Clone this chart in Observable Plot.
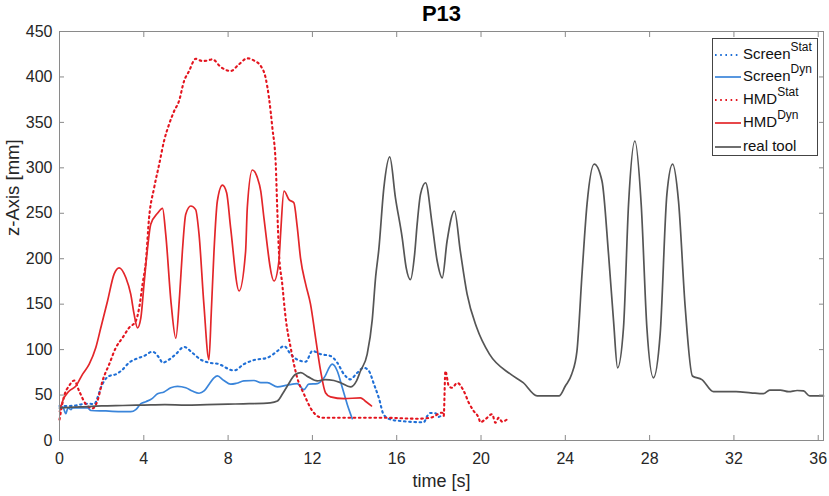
<!DOCTYPE html>
<html><head><meta charset="utf-8">
<script src="https://cdn.jsdelivr.net/npm/d3@7"></script>
<script src="https://cdn.jsdelivr.net/npm/@observablehq/plot@0.6"></script>
<style>
body{margin:0;background:#fff;font-family:"Liberation Sans",Arial,sans-serif;}
#wrap{position:relative;width:829px;height:496px;}
#legend{position:absolute;left:712px;top:38px;width:106px;height:118px;border:1px solid #444;background:#fff;box-sizing:border-box;}
.row{position:absolute;left:0;height:22px;width:104px;font-size:15px;color:#111;}
.row svg{position:absolute;left:2px;top:10px;}
.row span{position:absolute;left:30px;top:2px;white-space:nowrap;line-height:18px;}
.row sup{font-size:12px;position:relative;top:-2px;vertical-align:super;line-height:0;}
</style></head><body><div id="wrap"></div>
<script>
const title = "P13";
const xLabel = "time [s]";
const yLabel = "z-Axis [mm]";
const xTicks = [0,4,8,12,16,20,24,28,32,36];
const yTicks = [0,50,100,150,200,250,300,350,400,450];

const screenStat = [[0,38],[0.46,38],[0.78,38.5],[1.09,40],[1.41,40.5],[1.65,40],[1.8,47],[1.96,58],[2.12,65.5],[2.36,71],[2.67,72.8],[2.99,78],[3.3,85.6],[3.7,90.4],[4.01,93],[4.41,97.7],[4.73,91],[4.89,85.6],[5.2,89],[5.52,95],[5.91,103],[6.3,96.6],[6.7,89],[7.1,85.6],[7.49,84.5],[8.28,77],[8.75,84],[9.23,88.5],[9.86,91],[10.34,98.5],[10.65,104],[10.97,95],[11.28,89],[11.68,86.7],[12.0,98.5],[12.39,95],[12.86,93],[13.18,85.6],[13.5,72.8],[13.8,67.3],[14.13,74.6],[14.44,80],[14.68,76.5],[14.92,62],[15.15,47],[15.39,28],[15.79,22.6],[16.18,21.5],[17.28,20],[17.45,27],[17.6,30.3],[17.84,30],[18.0,26],[18.16,29]];

const screenDyn = [[0,35.4],[0.15,37],[0.3,29.5],[0.4,36],[0.54,34],[0.62,36],[0.78,36],[1.09,36],[1.33,36],[1.49,33],[2.2,32.5],[2.99,31.7],[3.38,31.7],[3.62,34],[3.86,40.5],[4.1,42.7],[4.41,46.4],[4.65,51.5],[4.96,53.4],[5.28,58],[5.6,59.6],[5.99,58],[6.3,54.5],[6.62,52],[6.86,54.5],[7.1,62],[7.33,69],[7.49,71],[7.8,66],[8.12,62],[8.4,63],[8.75,65.5],[9.23,66],[9.55,63.6],[9.86,63.6],[10.34,59],[10.81,61],[11.28,62.5],[11.6,56],[11.83,62],[12.23,62.5],[12.55,69],[12.94,84],[13.18,76.5],[13.42,58],[13.65,40],[13.89,24]];

const hmdStat = [[0,23],[0.22,49],[0.45,60],[0.7,66],[0.93,54.5],[1.25,40],[1.57,35.4],[1.8,43.5],[2.04,65.5],[2.36,84],[2.67,102],[2.99,113],[3.3,124],[3.62,131.5],[3.78,146],[3.94,172],[4.1,197.5],[4.25,245],[4.49,278],[4.73,304],[4.96,329.5],[5.2,348],[5.44,362.5],[5.67,373.5],[5.91,395.5],[6.15,406.5],[6.46,420],[6.78,417.5],[7.0,418],[7.26,419.4],[7.65,411],[8.12,406.5],[8.52,414],[8.91,420.5],[9.23,418],[9.55,412],[9.78,399],[9.94,377],[10.1,344],[10.26,304],[10.33,256],[10.41,208],[10.57,172],[10.73,135],[10.97,102],[11.28,69],[11.6,51],[12.0,32.5],[12.47,25],[13.8,25],[15.4,25],[16.97,24],[17.6,25],[18.16,30.6],[18.23,27],[18.31,76.5],[18.47,60],[18.63,58],[18.87,63.3],[19.18,54.5],[19.42,41.6],[19.65,32.5],[19.89,25],[19.97,20],[20.2,23.3],[20.53,29],[20.68,19.6],[20.84,25],[21.0,20.7],[21.24,23.3]];

const hmdDyn = [[0,32],[0.15,43.5],[0.46,54.5],[0.78,60],[1.09,72.8],[1.41,84],[1.72,102],[1.96,124],[2.28,153.5],[2.59,183],[2.83,190],[3.15,179],[3.38,161],[3.54,139],[3.7,124],[3.86,135],[4.01,172],[4.17,210],[4.33,238],[4.65,250],[4.89,255.5],[5.04,227],[5.3,150],[5.52,112.5],[5.7,160],[5.83,208],[5.99,249],[6.23,258],[6.46,254],[6.62,227],[6.85,150],[7.09,89],[7.2,140],[7.33,208],[7.49,263.5],[7.73,281],[7.93,272.6],[8.12,234],[8.52,164.5],[8.83,208],[8.91,256],[9.15,297.6],[9.39,289],[9.55,274.5],[9.7,245],[10.18,175.5],[10.41,197.5],[10.49,227],[10.65,274.5],[10.89,265],[11.12,261.5],[11.28,235],[11.44,200],[11.68,172],[11.91,150],[12.15,113],[12.39,76.5],[12.62,52.6],[12.86,48],[13.5,46],[14.28,47],[14.5,43.5],[14.8,38]];

const realTool = [[0,36],[1,37],[2,38],[3,38.5],[4,39],[5,39.5],[6,39],[7,39.5],[8,40],[9,40.5],[10,41.5],[10.34,43.5],[10.6,52],[10.81,60],[11.2,72.8],[11.45,74.6],[11.8,70],[12.23,65.5],[12.6,67],[13.02,66],[13.34,63.6],[13.8,59],[14.1,66],[14.28,76.5],[14.6,95],[14.84,133],[15.0,180],[15.15,210],[15.39,278],[15.67,312],[15.94,267],[16.26,223],[16.45,190],[16.65,177],[16.85,205],[16.97,238],[17.13,271],[17.37,283.6],[17.68,238],[17.92,197.5],[18.16,179],[18.39,219.5],[18.74,252.5],[19.02,208],[19.34,161],[19.8,124],[20.4,95],[21.4,73],[22.0,63.6],[22.66,49],[23.7,49],[24.0,60],[24.3,72.8],[24.55,98],[24.8,186],[25.03,260],[25.37,304],[25.74,285.5],[26.05,205],[26.29,131],[26.48,80],[26.76,124],[27.0,260],[27.3,329.5],[27.6,260],[27.87,124],[28.18,69],[28.5,117],[28.82,271],[29.09,304],[29.37,263.5],[29.69,146],[30.03,71],[30.48,67],[31.03,53.7],[32.1,53.7],[32.8,52.5],[33.4,51.5],[33.7,55.5],[34.2,55.5],[34.6,53.7],[35.0,55],[35.3,54.5],[35.6,49],[36.25,49]];

const seriesNames = ["Screen", "Screen", "HMD", "HMD", "real tool"];
const seriesSups = ["Stat", "Dyn", "Stat", "Dyn", ""];
const seriesData = [screenStat, screenDyn, hmdStat, hmdDyn, realTool];
const seriesColors = ["#1f6fd6", "#3a85da", "#e3141e", "#e3262a", "#555555"];
const seriesDash = ["1.6 3.6", null, "1.6 3.6", null, null];
const seriesWidth = [2.1, 1.7, 2.1, 1.7, 1.7];

const frameColor = "#8a8a8a";
const textColor = "#262626";

const lineMarks = seriesData.map((d, i) => Plot.line(d.map(([t, z]) => ({t, z})), {
  x: "t", y: "z", stroke: seriesColors[i], strokeWidth: seriesWidth[i],
  strokeDasharray: seriesDash[i] ?? undefined, curve: "monotone-x"
}));

const plot = Plot.plot({
  width: 829, height: 496,
  marginLeft: 59, marginRight: 6, marginTop: 31, marginBottom: 56,
  style: {fontFamily: "'Liberation Sans', Arial, sans-serif", fontSize: "16px", color: textColor, background: "white"},
  x: {domain: [0, 36.25], label: null},
  y: {domain: [0, 450], label: null},
  marks: [
    ...lineMarks,
    Plot.frame({stroke: frameColor, strokeWidth: 1}),
    Plot.axisX(xTicks, {anchor: "bottom", tickSize: 0, tickPadding: 12, fill: textColor, label: null}),
    Plot.axisX(xTicks, {anchor: "bottom", tickSize: -5, fill: "none", stroke: frameColor, label: null}),
    Plot.axisX(xTicks, {anchor: "top", tickSize: -5, fill: "none", stroke: frameColor, label: null}),
    Plot.axisY(yTicks, {anchor: "left", tickSize: 0, tickPadding: 7, fill: textColor, label: null}),
    Plot.axisY(yTicks, {anchor: "left", tickSize: -5, fill: "none", stroke: frameColor, label: null}),
    Plot.axisY(yTicks, {anchor: "right", tickSize: -5, fill: "none", stroke: frameColor, label: null}),
    Plot.text([title], {frameAnchor: "top", dy: -18, lineAnchor: "middle", fontWeight: "bold", fontSize: 22, fill: "#000"}),
    Plot.text([xLabel], {frameAnchor: "bottom", dy: 41, lineAnchor: "middle", fontSize: 18, fill: textColor}),
    Plot.text([yLabel], {frameAnchor: "left", dx: -46, rotate: -90, lineAnchor: "middle", fontSize: 18.5, fill: textColor})
  ]
});

const wrap = document.getElementById("wrap");
wrap.appendChild(plot);

const legend = document.createElement("div");
legend.id = "legend";
const rowTops = [4, 26, 49, 72, 96];
seriesNames.forEach((n, i) => {
  const row = document.createElement("div");
  row.className = "row";
  row.style.top = rowTops[i] + "px";
  const dash = seriesDash[i] ? `stroke-dasharray="${seriesDash[i]}"` : "";
  row.innerHTML = `<svg width="27" height="4"><line x1="0" y1="2" x2="26" y2="2" stroke="${seriesColors[i]}" stroke-width="${seriesWidth[i]}" ${dash}/></svg><span>${n}${seriesSups[i] ? `<sup>${seriesSups[i]}</sup>` : ""}</span>`;
  legend.appendChild(row);
});
wrap.appendChild(legend);
</script>
</body></html>
